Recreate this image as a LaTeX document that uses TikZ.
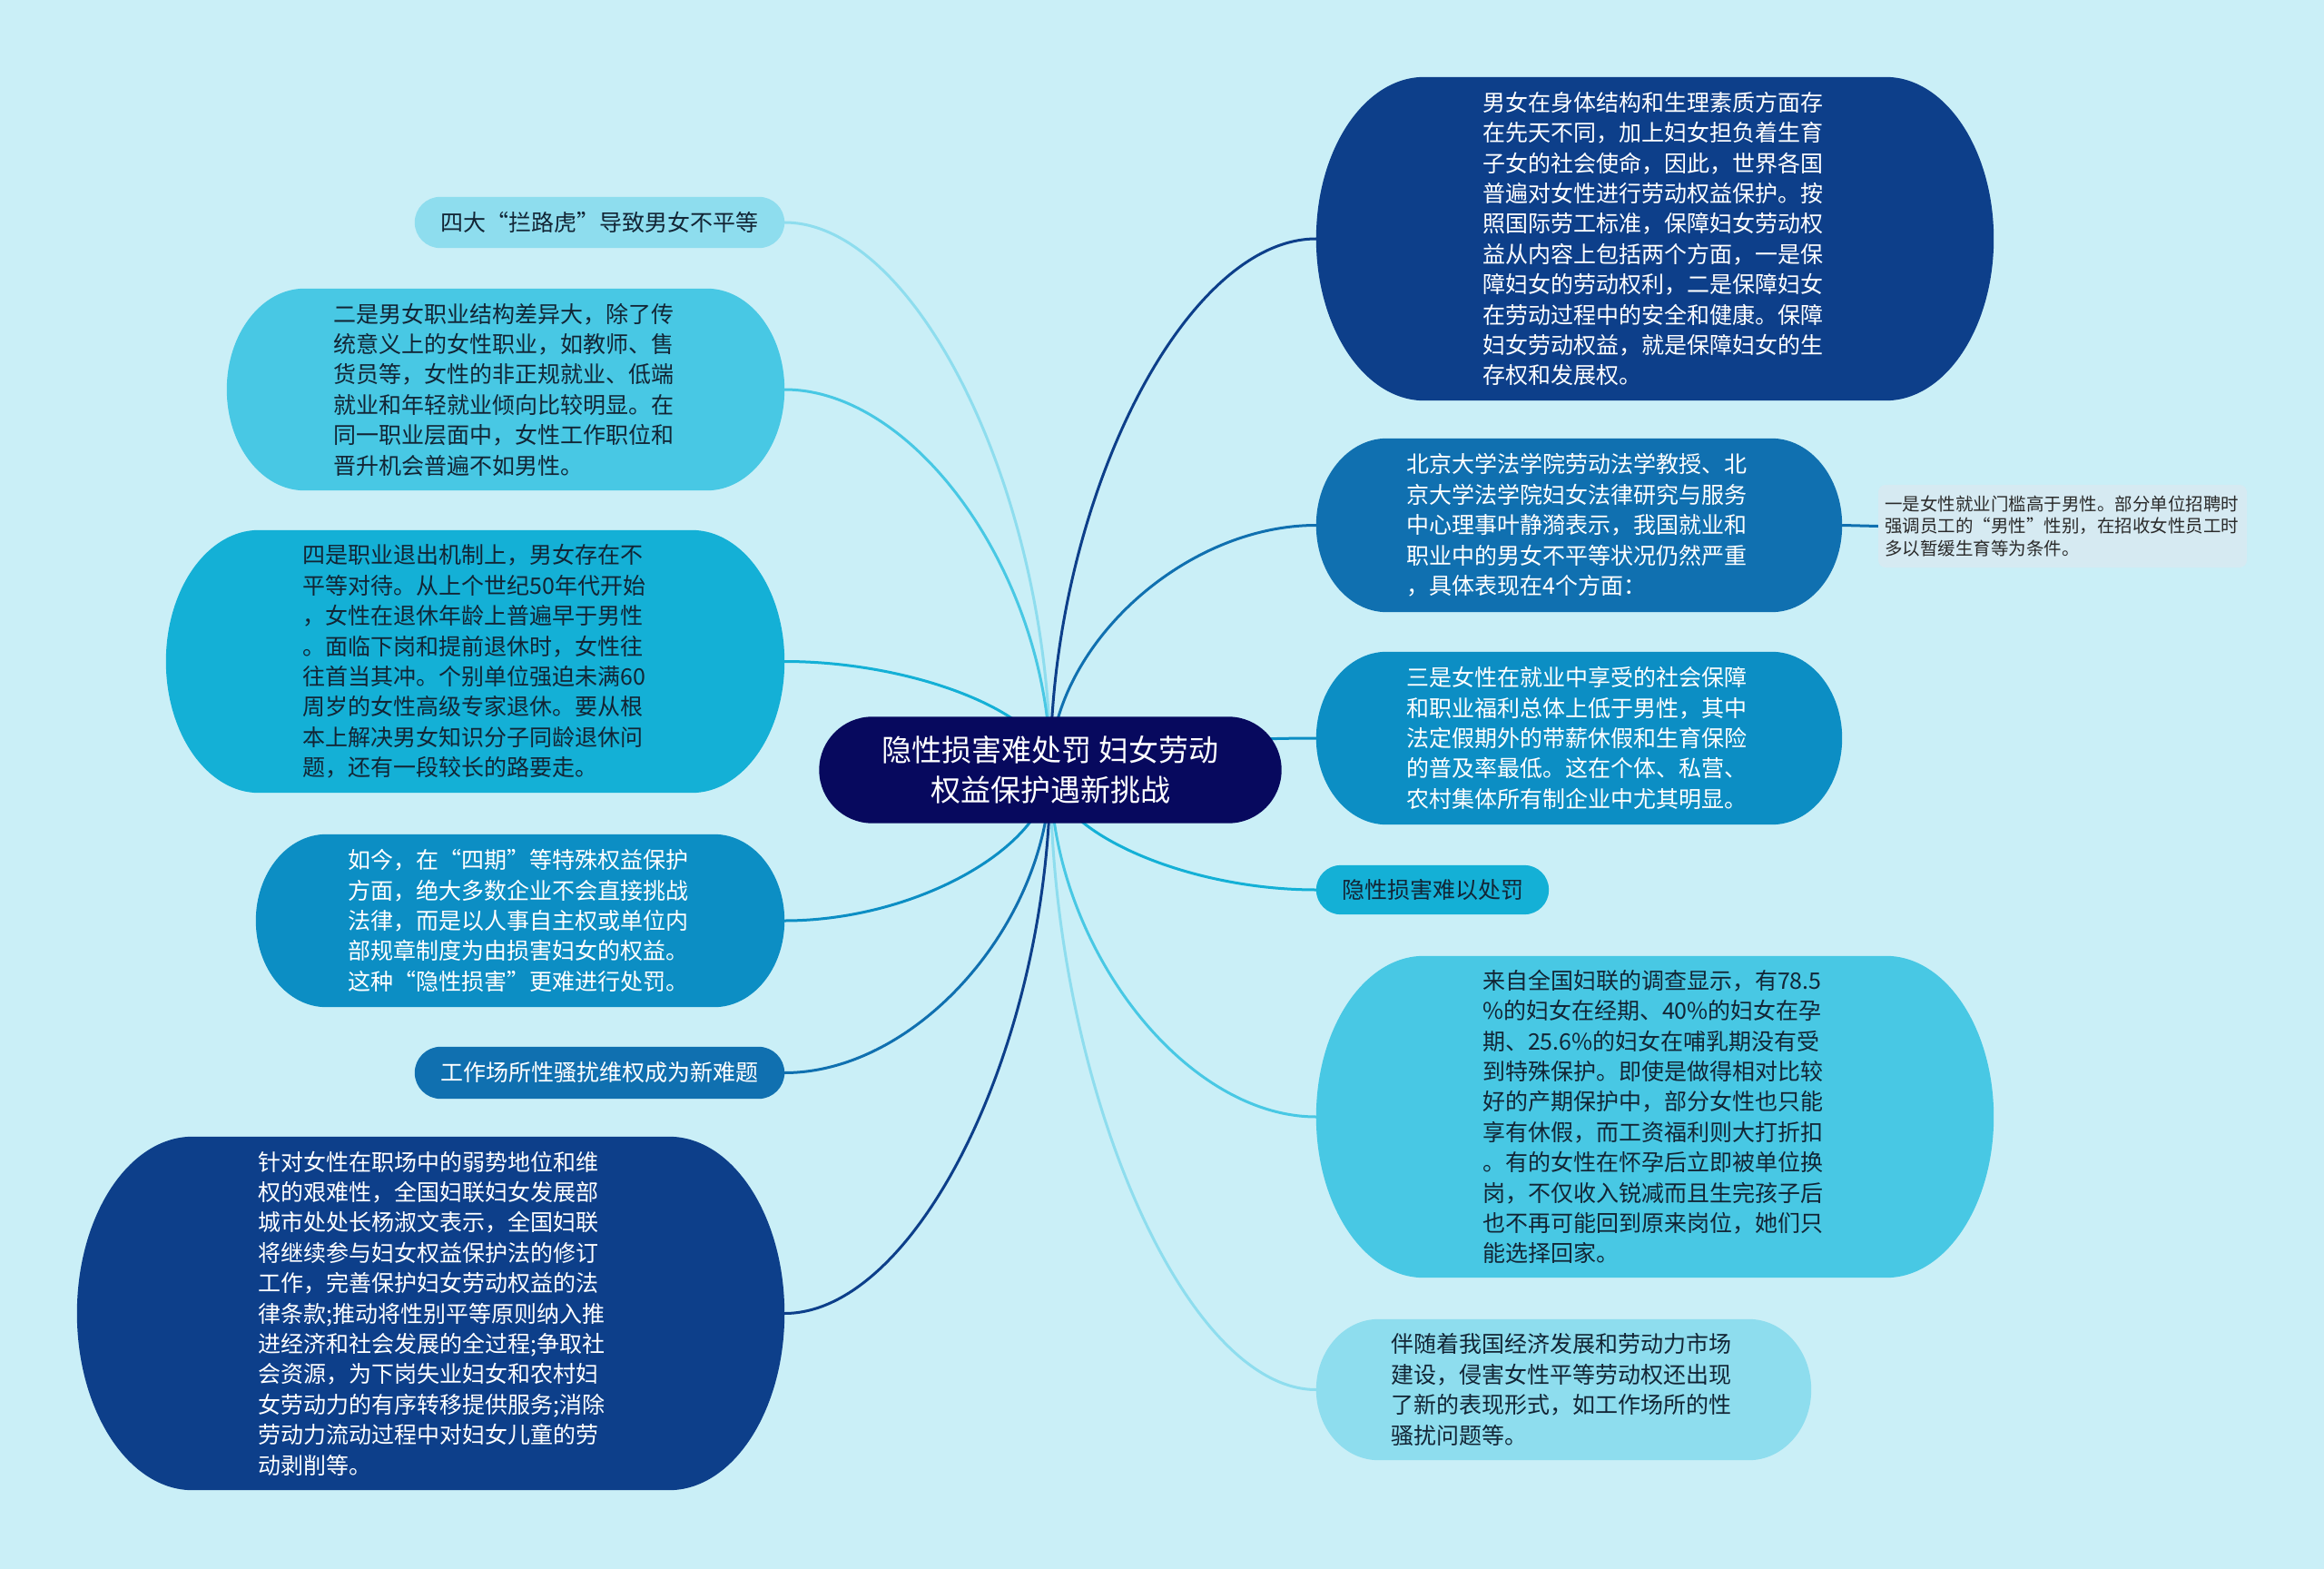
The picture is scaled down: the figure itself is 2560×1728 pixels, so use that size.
\documentclass[tikz,border=0pt]{standalone}
\usepackage{fontspec}
\setmainfont{Noto Sans CJK SC}
\usetikzlibrary{calc,backgrounds}
\definecolor{bgc}{HTML}{CAEFF7}
\definecolor{cen}{HTML}{07095E}
\definecolor{ca}{HTML}{0D3F8A}
\definecolor{cb}{HTML}{1070B0}
\definecolor{cc}{HTML}{0C8EC4}
\definecolor{cd}{HTML}{14B0D6}
\definecolor{ce}{HTML}{48C8E4}
\definecolor{cf}{HTML}{8EDDEE}
\definecolor{note}{HTML}{D6EAF2}
\definecolor{txd}{HTML}{122535}
\definecolor{txn}{HTML}{2A2A2A}
\newcommand\pillfill[2]{%
  \fill[#2] let \p1=(#1.north west), \p2=(#1.south east),
     \n1={0.5*((\y1)-(\y2))}, \n2={min(\n1,30pt+0.5*\n1)} in
     (\x1+\n2,\y1) -- (\x2-\n2,\y1)
     arc[start angle=90,end angle=-90,x radius=\n2,y radius=\n1]
     -- (\x1+\n2,\y2)
     arc[start angle=270,end angle=90,x radius=\n2,y radius=\n1] -- cycle;}
\newcommand\conn[3]{%
  \draw[conn,#1] let \p1=(#2), \p2=(#3) in
    (\p1) .. controls (\x1,{0.5*(\y1)+0.5*(\y2)}) and ({0.5*(\x1)+0.5*(\x2)},\y2) .. (\p2);}
\tikzset{
  body/.style={inner sep=0pt, align=left, text width=380pt,
    font=\fontsize{25pt}{33.4pt}\selectfont},
  small/.style={inner sep=0pt, align=center,
    font=\fontsize{25pt}{30pt}\selectfont},
  wt/.style={text=white},
  dk/.style={text=txd},
  conn/.style={line width=3pt},
}
\begin{document}
\begin{tikzpicture}[x=1pt,y=1pt]
\useasboundingbox (0,0) rectangle (2560,-1728);
% central
\node[inner sep=0pt, align=center, text=white, font=\fontsize{33pt}{44pt}\selectfont,
  minimum width=509pt, minimum height=117pt] (c) at (1157,-848)
  {隐性损害难处罚 妇女劳动\\权益保护遇新挑战};
% right side
\node[body,wt,minimum width=746pt,minimum height=356pt] (r1) at (1823,-263) {男女在身体结构和生理素质方面存\\
在先天不同，加上妇女担负着生育\\
子女的社会使命，因此，世界各国\\
普遍对女性进行劳动权益保护。按\\
照国际劳工标准，保障妇女劳动权\\
益从内容上包括两个方面，一是保\\
障妇女的劳动权利，二是保障妇女\\
在劳动过程中的安全和健康。保障\\
妇女劳动权益，就是保障妇女的生\\
存权和发展权。};
\node[body,wt,minimum width=579pt,minimum height=191pt] (r2) at (1739.5,-578.5) {北京大学法学院劳动法学教授、北\\
京大学法学院妇女法律研究与服务\\
中心理事叶静漪表示，我国就业和\\
职业中的男女不平等状况仍然严重\\
，具体表现在4个方面：};
\node[inner sep=0pt, align=left, text width=392pt, text=txn, fill=note, rounded corners=8pt,
  font=\fontsize{19.5pt}{24.5pt}\selectfont,
  minimum width=406pt, minimum height=91pt] (r2a) at (2272,-579.5) {一是女性就业门槛高于男性。部分单位招聘时\\
强调员工的“男性”性别，在招收女性员工时\\
多以暂缓生育等为条件。};
\node[body,wt,minimum width=579pt,minimum height=190pt] (r3) at (1739.5,-813) {三是女性在就业中享受的社会保障\\
和职业福利总体上低于男性，其中\\
法定假期外的带薪休假和生育保险\\
的普及率最低。这在个体、私营、\\
农村集体所有制企业中尤其明显。};
\node[small,dk,minimum width=256pt,minimum height=54pt] (r4) at (1578,-980) {隐性损害难以处罚};
\node[body,dk,minimum width=746pt,minimum height=354pt] (r5) at (1823,-1230) {来自全国妇联的调查显示，有78.5\\
\%的妇女在经期、40\%的妇女在孕\\
期、25.6\%的妇女在哺乳期没有受\\
到特殊保护。即使是做得相对比较\\
好的产期保护中，部分女性也只能\\
享有休假，而工资福利则大打折扣\\
。有的女性在怀孕后立即被单位换\\
岗，不仅收入锐减而且生完孩子后\\
也不再可能回到原来岗位，她们只\\
能选择回家。};
\node[body,dk,minimum width=545pt,minimum height=155pt] (r6) at (1722.5,-1530.5) {伴随着我国经济发展和劳动力市场\\
建设，侵害女性平等劳动权还出现\\
了新的表现形式，如工作场所的性\\
骚扰问题等。};
% left side
\node[small,dk,minimum width=407pt,minimum height=56pt] (l1) at (660.5,-245) {四大“拦路虎”导致男女不平等};
\node[body,dk,minimum width=614pt,minimum height=222pt] (l2) at (557,-429) {二是男女职业结构差异大，除了传\\
统意义上的女性职业，如教师、售\\
货员等，女性的非正规就业、低端\\
就业和年轻就业倾向比较明显。在\\
同一职业层面中，女性工作职位和\\
晋升机会普遍不如男性。};
\node[body,dk,minimum width=681pt,minimum height=289pt] (l3) at (523.5,-728.5) {四是职业退出机制上，男女存在不\\
平等对待。从上个世纪50年代开始\\
，女性在退休年龄上普遍早于男性\\
。面临下岗和提前退休时，女性往\\
往首当其冲。个别单位强迫未满60\\
周岁的女性高级专家退休。要从根\\
本上解决男女知识分子同龄退休问\\
题，还有一段较长的路要走。};
\node[body,wt,minimum width=582pt,minimum height=190pt] (l4) at (573,-1014) {如今，在“四期”等特殊权益保护\\
方面，绝大多数企业不会直接挑战\\
法律，而是以人事自主权或单位内\\
部规章制度为由损害妇女的权益。\\
这种“隐性损害”更难进行处罚。};
\node[small,wt,minimum width=407pt,minimum height=57pt] (l5) at (660.5,-1181.5) {工作场所性骚扰维权成为新难题};
\node[body,wt,minimum width=779pt,minimum height=389pt] (l6) at (474.5,-1446.5) {针对女性在职场中的弱势地位和维\\
权的艰难性，全国妇联妇女发展部\\
城市处处长杨淑文表示，全国妇联\\
将继续参与妇女权益保护法的修订\\
工作，完善保护妇女劳动权益的法\\
律条款;推动将性别平等原则纳入推\\
进经济和社会发展的全过程;争取社\\
会资源，为下岗失业妇女和农村妇\\
女劳动力的有序转移提供服务;消除\\
劳动力流动过程中对妇女儿童的劳\\
动剥削等。};
\begin{pgfonlayer}{background}
\fill[bgc] (0,0) rectangle (2560,-1728);
\conn{ca}{c.center}{r1.west}
\conn{cb}{c.center}{r2.west}
\conn{cc}{c.center}{r3.west}
\conn{cd}{c.center}{r4.west}
\conn{ce}{c.center}{r5.west}
\conn{cf}{c.center}{r6.west}
\conn{cf}{c.center}{l1.east}
\conn{ce}{c.center}{l2.east}
\conn{cd}{c.center}{l3.east}
\conn{cc}{c.center}{l4.east}
\conn{cb}{c.center}{l5.east}
\conn{ca}{c.center}{l6.east}
\draw[conn,cb] (r2.east) -- (r2a.west);
\pillfill{c}{cen}
\pillfill{r1}{ca}
\pillfill{r2}{cb}
\pillfill{r3}{cc}
\pillfill{r4}{cd}
\pillfill{r5}{ce}
\pillfill{r6}{cf}
\pillfill{l1}{cf}
\pillfill{l2}{ce}
\pillfill{l3}{cd}
\pillfill{l4}{cc}
\pillfill{l5}{cb}
\pillfill{l6}{ca}
\end{pgfonlayer}
\end{tikzpicture}
\end{document}
